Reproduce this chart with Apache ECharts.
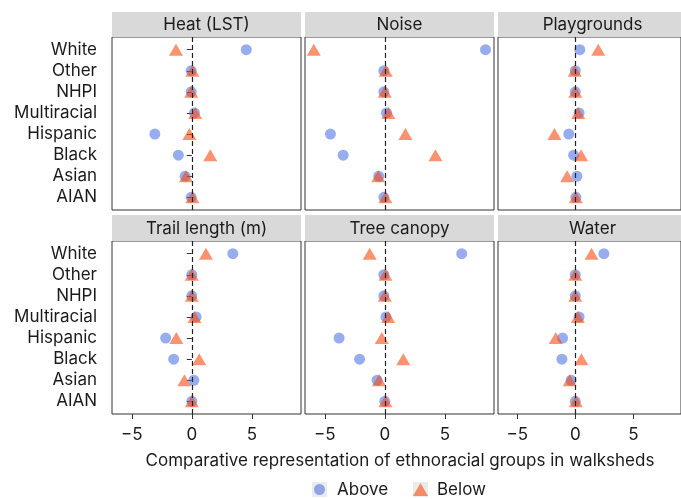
<!DOCTYPE html>
<html>
<head>
<meta charset="utf-8">
<script src="https://cdn.jsdelivr.net/npm/echarts@6/dist/echarts.min.js"></script>
<style>
html,body{margin:0;padding:0;background:#fff;}
#main{width:681px;height:499px;}
</style>
</head>
<body>
<div id="main"></div>
<script>
// groups, top to bottom as in the figure
var groups = ['White', 'Other', 'NHPI', 'Multiracial', 'Hispanic', 'Black', 'Asian', 'AIAN'];
var panelNames = ['Heat (LST)', 'Noise', 'Playgrounds', 'Trail length (m)', 'Tree canopy', 'Water'];
var xTicks = [-5, 0, 5];

var heatAbove  = [4.54, -0.05, -0.05, 0.22, -3.08, -1.12, -0.56, -0.05];
var heatBelow  = [-1.32, 0.05, -0.05, 0.28, -0.20, 1.54, -0.48, 0.05];
var noiseAbove = [8.39, -0.08, -0.08, 0.14, -4.53, -3.47, -0.50, -0.08];
var noiseBelow = [-5.92, 0.08, 0.00, 0.30, 1.72, 4.22, -0.55, 0.05];
var playAbove  = [0.39, 0.00, 0.00, 0.33, -0.56, -0.14, 0.14, 0.05];
var playBelow  = [1.98, -0.05, 0.00, 0.25, -1.79, 0.50, -0.70, 0.05];
var trailAbove = [3.42, 0.00, 0.00, 0.36, -2.18, -1.51, 0.17, 0.00];
var trailBelow = [1.18, 0.00, 0.00, 0.22, -1.29, 0.62, -0.62, 0.00];
var treeAbove  = [6.41, -0.08, -0.08, 0.10, -3.81, -2.10, -0.64, 0.00];
var treeBelow  = [-1.26, 0.05, 0.00, 0.28, -0.25, 1.54, -0.48, 0.05];
var waterAbove = [2.46, 0.00, 0.00, 0.33, -1.09, -1.15, -0.36, 0.00];
var waterBelow = [1.40, 0.00, 0.00, 0.22, -1.68, 0.53, -0.48, 0.05];

var aboveData = [heatAbove, noiseAbove, playAbove, trailAbove, treeAbove, waterAbove];
var belowData = [heatBelow, noiseBelow, playBelow, trailBelow, treeBelow, waterBelow];

var myChart = echarts.init(document.getElementById('main'));

var FONT = 'Inter';
var FS = 17;
var TXT = '#1a1a1a';
var lefts = [112, 305, 498];
var tops = [37, 241];
var stripTops = [12, 215];
var W = 189, H = 173;

var yVals = [];
for (var k = 1; k <= groups.length; k++) yVals.push(k);

function toPoints(arr) {
    var pts = [];
    for (var j = 0; j < arr.length; j++) {
        pts.push([arr[j], groups.length - j]);
    }
    return pts;
}

var grids = [], xAxes = [], yAxes = [], series = [], graphics = [];

for (var i = 0; i < 6; i++) {
    var col = i % 3, row = Math.floor(i / 3);
    grids.push({
        left: lefts[col], top: tops[row], width: W, height: H,
        show: true, borderColor: '#333', borderWidth: 1
    });
    xAxes.push({
        gridIndex: i, type: 'value', min: -6.65, max: 9.1,
        splitLine: {show: false},
        axisLine: {show: false},
        axisTick: {show: row == 1, customValues: xTicks, length: 5, lineStyle: {color: '#333'}},
        axisLabel: {
            show: row == 1, customValues: xTicks, margin: 12,
            fontSize: FS, color: TXT, fontFamily: FONT,
            formatter: function (v) { return String(v).replace('-', '\u2212'); }
        }
    });
    yAxes.push({
        gridIndex: i, type: 'value', min: 0.4, max: groups.length + 0.6,
        splitLine: {show: false},
        axisLine: {show: false},
        axisTick: {show: col == 0, customValues: yVals, length: 5, lineStyle: {color: '#333'}},
        axisLabel: {
            show: col == 0, customValues: yVals, margin: 15,
            fontSize: FS, color: TXT, fontFamily: FONT,
            formatter: function (v) { return groups[groups.length - v]; }
        }
    });
    series.push({
        name: 'Above', type: 'scatter', xAxisIndex: i, yAxisIndex: i,
        symbol: 'circle', symbolSize: 11,
        itemStyle: {color: '#4169e1', opacity: 0.55},
        data: toPoints(aboveData[i]),
        markLine: {
            silent: true, symbol: 'none', label: {show: false},
            lineStyle: {color: '#222', type: [5, 3], width: 1.2},
            emphasis: {disabled: true},
            data: [{xAxis: 0}]
        }
    });
    series.push({
        name: 'Below', type: 'scatter', xAxisIndex: i, yAxisIndex: i,
        symbol: 'triangle', symbolSize: [14, 12],
        itemStyle: {color: '#f84911', opacity: 0.6},
        data: toPoints(belowData[i])
    });

    // facet strip
    graphics.push({
        type: 'rect', left: lefts[col], top: stripTops[row],
        shape: {width: W, height: tops[row] - stripTops[row]},
        style: {fill: '#d9d9d9'}
    });
    graphics.push({
        type: 'text', x: lefts[col] + W / 2, y: (stripTops[row] + tops[row]) / 2 + 0.5,
        style: {
            text: panelNames[i], fill: TXT, font: FS + 'px ' + FONT,
            textAlign: 'center', textVerticalAlign: 'middle'
        }
    });
}

// axis title
graphics.push({
    type: 'text', x: 400, y: 461,
    style: {
        text: 'Comparative representation of ethnoracial groups in walksheds',
        fill: TXT, font: FS + 'px ' + FONT, textAlign: 'center', textVerticalAlign: 'middle'
    }
});
// legend key backgrounds
graphics.push({type: 'rect', left: 312, top: 482, z: -1, shape: {width: 15, height: 15}, style: {fill: '#ebebeb'}});
graphics.push({type: 'rect', left: 413, top: 482, z: -1, shape: {width: 15, height: 15}, style: {fill: '#ebebeb'}});

var option = {
    animation: false,
    grid: grids,
    xAxis: xAxes,
    yAxis: yAxes,
    legend: [{
        data: ['Above'], left: 314, top: 481, padding: 0, icon: 'circle',
        itemWidth: 11, itemHeight: 11, selectedMode: false,
        textStyle: {fontSize: FS, color: TXT, fontFamily: FONT, padding: [0, 0, 0, 7]}
    }, {
        data: ['Below'], left: 413, top: 481, padding: 0, icon: 'triangle',
        itemWidth: 15, itemHeight: 13, selectedMode: false,
        textStyle: {fontSize: FS, color: TXT, fontFamily: FONT, padding: [0, 0, 0, 4]}
    }],
    graphic: graphics,
    series: series
};

myChart.setOption(option);
</script>
</body>
</html>
